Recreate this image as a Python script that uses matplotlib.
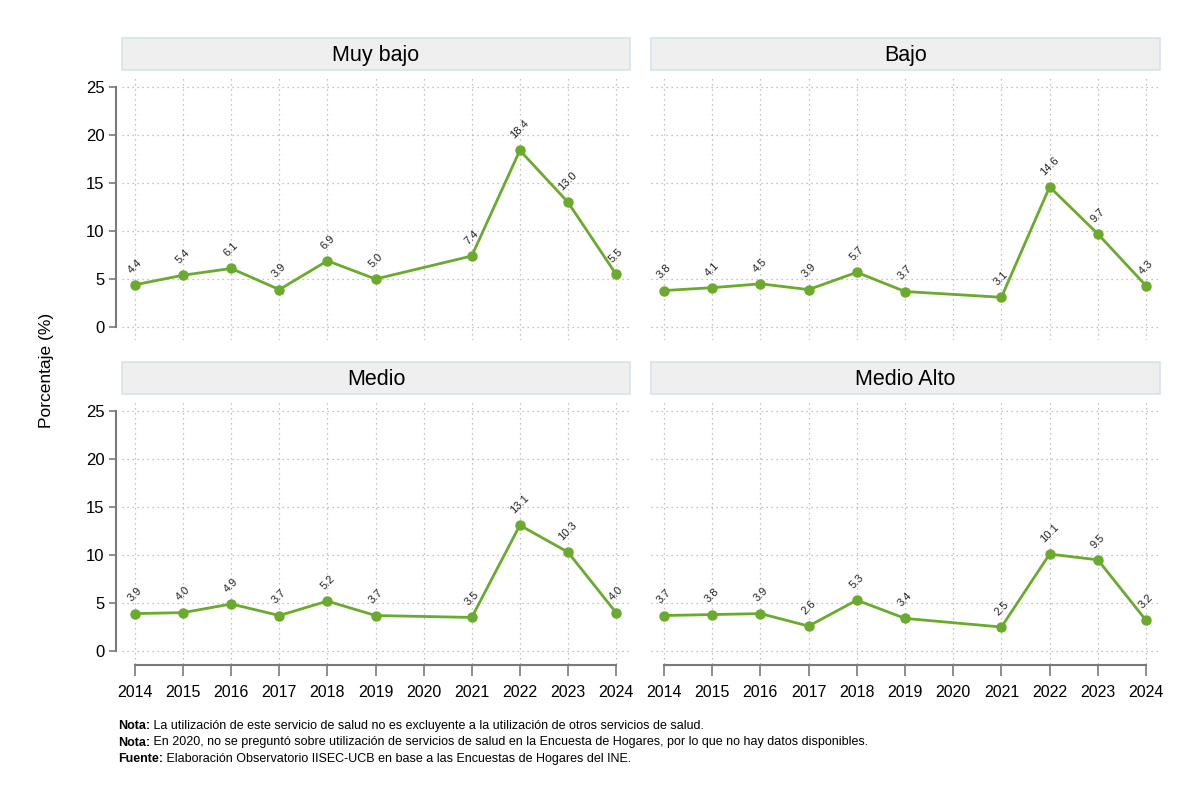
import matplotlib.pyplot as plt
from matplotlib.patches import Rectangle
import numpy as np

plt.rcParams['font.family'] = ['Liberation Sans Narrow', 'Liberation Sans', 'DejaVu Sans']

# datos (2020 sin datos)
anios = [2014, 2015, 2016, 2017, 2018, 2019, 2020, 2021, 2022, 2023, 2024]
grupos = ['Muy bajo', 'Bajo', 'Medio', 'Medio Alto']
muy_bajo = [4.4, 5.4, 6.1, 3.9, 6.9, 5.0, np.nan, 7.4, 18.4, 13.0, 5.5]
bajo = [3.8, 4.1, 4.5, 3.9, 5.7, 3.7, np.nan, 3.1, 14.6, 9.7, 4.3]
medio = [3.9, 4.0, 4.9, 3.7, 5.2, 3.7, np.nan, 3.5, 13.1, 10.3, 4.0]
medio_alto = [3.7, 3.8, 3.9, 2.6, 5.3, 3.4, np.nan, 2.5, 10.1, 9.5, 3.2]
series = [muy_bajo, bajo, medio, medio_alto]
yticks = [0, 5, 10, 15, 20, 25]

verde = '#6aaa2c'
W, H = 1200, 801
fig = plt.figure(figsize=(12, 8.01), dpi=100)

# posiciones de los paneles en pixeles (x0, x1, ytop, ybottom)
cols = [(122, 630), (651, 1160)]
rows = [(75, 340), (399, 664)]

for i, (nombre, vals) in enumerate(zip(grupos, series)):
    r, c = divmod(i, 2)
    x0, x1 = cols[c]
    yt, yb = rows[r]
    ax = fig.add_axes([x0 / W, 1 - yb / H, (x1 - x0) / W, (yb - yt) / H])
    ax.set_xlim(2013.73, 2024.29)
    ax.set_ylim(-1.35, 26.25)

    x = np.array(anios)
    y = np.array(vals)
    ok = ~np.isnan(y)
    ax.plot(x[ok], y[ok], color=verde, lw=2, marker='o', ms=6.5, zorder=3)
    for xi, yi in zip(x[ok], y[ok]):
        ax.annotate(f'{yi:.1f}', (xi, yi), xytext=(0, 7), textcoords='offset points',
                    rotation=45, ha='center', va='bottom', fontsize=8, color='#222222')

    ax.set_xticks(anios)
    ax.set_yticks(yticks)
    ax.grid(True, color='#b0b0b0', ls=(0, (1, 3)), lw=0.9)
    ax.set_axisbelow(True)
    for s in ['top', 'right']:
        ax.spines[s].set_visible(False)

    if c == 0:
        ax.spines['left'].set_position(('outward', 4))
        ax.spines['left'].set_bounds(0, 25)
        ax.spines['left'].set_color('#7a7a7a')
        ax.spines['left'].set_linewidth(1.5)
        ax.tick_params(axis='y', length=5, width=1.2, color='#7a7a7a', labelsize=12)
    else:
        ax.spines['left'].set_visible(False)
        ax.tick_params(axis='y', length=0, labelleft=False)

    if r == 1:
        ax.spines['bottom'].set_position(('outward', 1))
        ax.spines['bottom'].set_bounds(2014, 2024)
        ax.spines['bottom'].set_color('#7a7a7a')
        ax.spines['bottom'].set_linewidth(1.5)
        ax.tick_params(axis='x', length=8, width=1.2, color='#7a7a7a', labelsize=11.5, pad=6)
    else:
        ax.spines['bottom'].set_visible(False)
        ax.tick_params(axis='x', length=0, labelbottom=False)

    # franja del titulo
    ty0 = yt - 37
    fig.patches.append(Rectangle((x0 / W, 1 - (ty0 + 32) / H), (x1 - x0) / W, 32 / H,
                                 transform=fig.transFigure, facecolor='#efefef',
                                 edgecolor='#d6e4ea', lw=1.2))
    fig.text((x0 + x1) / 2 / W, 1 - (ty0 + 17) / H, nombre, ha='center', va='center',
             fontsize=15.5)

fig.text(47 / W, 1 - 370 / H, 'Porcentaje (%)', rotation=90, ha='center', va='center',
         fontsize=12.5)

notas = [('Nota:', ' La utilización de este servicio de salud no es excluyente a la utilización de otros servicios de salud.'),
         ('Nota:', ' En 2020, no se preguntó sobre utilización de servicios de salud en la Encuesta de Hogares, por lo que no hay datos disponibles.'),
         ('Fuente:', ' Elaboración Observatorio IISEC-UCB en base a las Encuestas de Hogares del INE.')]
for k, (b, t) in enumerate(notas):
    yy = 1 - (726 + k * 16.5) / H
    tb = fig.text(118 / W, yy, b, fontsize=9, fontweight='bold', va='center')
    fig.canvas.draw()
    bb = tb.get_window_extent()
    fig.text(bb.x1 / W, yy, t, fontsize=9, va='center')

plt.savefig('out.png', dpi=100, facecolor='white')
